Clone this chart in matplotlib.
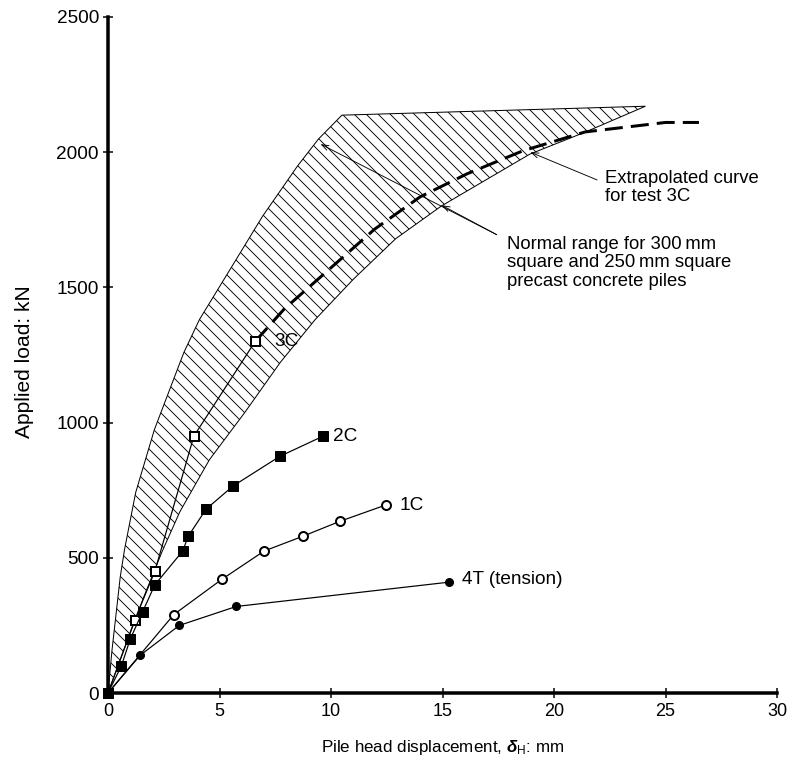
import matplotlib
matplotlib.use("Agg")
import matplotlib.pyplot as plt

plt.rcParams['font.family'] = ['Liberation Sans', 'DejaVu Sans']
plt.rcParams['mathtext.fontset'] = 'custom'
plt.rcParams['mathtext.rm'] = 'Liberation Sans'
plt.rcParams['mathtext.it'] = 'Liberation Sans:italic:bold'
plt.rcParams['mathtext.bf'] = 'Liberation Sans:bold'
plt.rcParams['hatch.linewidth'] = 0.9

# ---- data (mm, kN) ----
x_3c = [0, 1.2, 2.1, 3.85, 6.6]
y_3c = [0, 270, 450, 950, 1300]

x_2c = [0, 0.6, 1.0, 1.55, 2.1, 3.35, 3.6, 4.4, 5.6, 7.7, 9.65]
y_2c = [0, 100, 200, 300, 400, 525, 580, 680, 765, 875, 950]

x_1c = [0, 2.95, 5.1, 7.0, 8.75, 10.4, 12.45]
y_1c = [0, 290, 420, 525, 580, 635, 695]

x_4t = [0, 1.45, 3.2, 5.75, 15.3]
y_4t = [0, 140, 250, 320, 410]

# extrapolated curve for test 3C
x_ext = [6.6, 7.9, 10.1, 11.95, 14.0, 16.1, 18.6, 21.4, 25.0, 26.5]
y_ext = [1300, 1420, 1580, 1715, 1835, 1920, 2005, 2075, 2110, 2110]

# normal range band: upper (steep) boundary incl. top edge, lower boundary
x_band_up = [0, 0.18, 0.55, 0.74, 1.24, 2.08, 3.4, 4.1, 6.93, 8.49, 9.43, 10.49, 24.1]
y_band_up = [0, 159, 430, 530, 741, 974, 1259, 1381, 1763, 1948, 2048, 2137, 2170]
x_band_lo = [0, 0.43, 0.93, 1.58, 2.41, 3.22, 4.55, 6.13, 7.72, 9.29, 11.0, 12.9, 14.95, 18.92, 21.39, 24.1]
y_band_lo = [0, 96, 207, 350, 520, 670, 863, 1037, 1222, 1381, 1530, 1680, 1801, 1993, 2074, 2170]

x_ticks = [0, 5, 10, 15, 20, 25, 30]
y_ticks = [0, 500, 1000, 1500, 2000, 2500]

fig = plt.figure(figsize=(11.0, 767 / 72), dpi=72)
ax = fig.add_axes([108 / 792, 1 - 693 / 767, (777 - 108) / 792, (693 - 17) / 767])

# band
bx = x_band_up + x_band_lo[::-1]
by = y_band_up + y_band_lo[::-1]
ax.fill(bx, by, facecolor='none', edgecolor='black', hatch='\\\\', linewidth=1.0, zorder=1)

# extrapolated dashed
ax.plot(x_ext, y_ext, color='black', lw=3.0, dashes=(6, 2.7), zorder=2)

lw = 1.2
ax.plot(x_3c, y_3c, color='black', lw=lw, marker='s', ms=9, mfc='white', mec='black', mew=2, zorder=4, clip_on=False)
ax.plot(x_2c, y_2c, color='black', lw=lw, marker='s', ms=10, mfc='black', mec='black', zorder=4, clip_on=False)
ax.plot(x_1c, y_1c, color='black', lw=lw, marker='o', ms=9, mfc='white', mec='black', mew=2, zorder=4, clip_on=False)
ax.plot(x_4t, y_4t, color='black', lw=lw, marker='o', ms=8, mfc='black', mec='black', zorder=4, clip_on=False)

fs_lab = 19
ax.annotate('3C', xy=(x_3c[-1], y_3c[-1]), xytext=(19, 0), textcoords='offset points',
            va='center', ha='left', fontsize=fs_lab)
ax.annotate('2C', xy=(x_2c[-1], y_2c[-1]), xytext=(10, 0), textcoords='offset points',
            va='center', ha='left', fontsize=fs_lab)
ax.annotate('1C', xy=(x_1c[-1], y_1c[-1]), xytext=(14, 0), textcoords='offset points',
            va='center', ha='left', fontsize=fs_lab)
ax.annotate('4T (tension)', xy=(x_4t[-1], y_4t[-1]), xytext=(13, 3), textcoords='offset points',
            va='center', ha='left', fontsize=fs_lab)

fs_ann = 18.5
arrow = dict(arrowstyle='->,head_length=0.7,head_width=0.25', color='black', lw=0.9, shrinkA=0, shrinkB=0)
ax.annotate('', xy=(18.94, 2000), xycoords='data', xytext=(0.731, 0.759), textcoords='axes fraction',
            arrowprops=arrow)
ax.text(0.743, 0.774, 'Extrapolated curve\nfor test 3C', fontsize=fs_ann, va='top', ha='left',
        linespacing=1.1, transform=ax.transAxes)
ax.annotate('', xy=(14.96, 1804), xycoords='data', xytext=(0.581, 0.678), textcoords='axes fraction',
            arrowprops=arrow)
ax.annotate('', xy=(9.53, 2030), xycoords='data', xytext=(0.581, 0.678), textcoords='axes fraction',
            arrowprops=arrow)
ax.text(0.596, 0.676, 'Normal range for 300\u2009mm\nsquare and 250\u2009mm square\nprecast concrete piles',
        fontsize=fs_ann, va='top', ha='left', linespacing=1.1, transform=ax.transAxes)

ax.set_xlim(0, 30)
ax.set_ylim(0, 2500)
ax.set_xticks(x_ticks)
ax.set_yticks(y_ticks)
ax.tick_params(axis='both', direction='inout', length=10, width=1.5, labelsize=19, pad=4)
ax.tick_params(axis='x', pad=5, labelsize=18)
for s in ('top', 'right'):
    ax.spines[s].set_visible(False)
ax.spines['left'].set_linewidth(3.5)
ax.spines['bottom'].set_linewidth(3.5)

ax.set_xlabel(r'Pile head displacement, $\delta_{\mathrm{H}}$: mm', fontsize=17)
ax.set_ylabel('Applied load: kN', fontsize=21)
ax.xaxis.set_label_coords(0.5, -0.081)
ax.yaxis.set_label_coords(-0.125, 0.49)
ax.xaxis.label.set_va('center')
ax.yaxis.label.set_va('center')

fig.savefig('out.png', dpi=72)
